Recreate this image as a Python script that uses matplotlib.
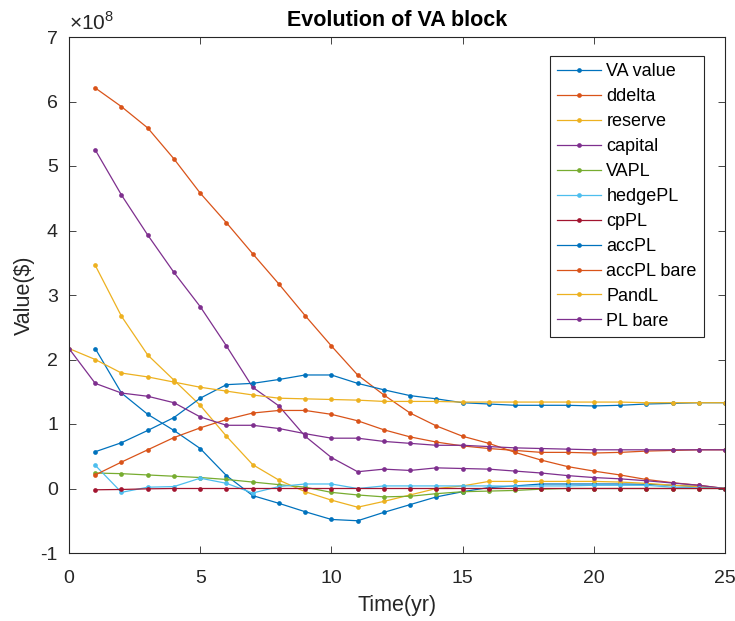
import numpy as np
import matplotlib.pyplot as plt

plt.rcParams['font.family'] = ['Liberation Sans', 'DejaVu Sans']
plt.rcParams['mathtext.fontset'] = 'custom'
plt.rcParams['mathtext.rm'] = 'Liberation Sans'
plt.rcParams['axes.unicode_minus'] = False

# time axis (years)
t0 = np.arange(0, 26)
t1 = np.arange(1, 26)

# values in units of 1e8 $
va_value = [2.17, 1.48, 1.15, 0.90, 0.62, 0.20, -0.11, -0.23, -0.36, -0.48, -0.50, -0.37, -0.25,
            -0.13, -0.05, 0.015, 0.04, 0.07, 0.07, 0.07, 0.07, 0.065, 0.05, 0.03, 0.0]
ddelta = [6.21, 5.92, 5.59, 5.11, 4.58, 4.12, 3.64, 3.17, 2.68, 2.21, 1.76, 1.45, 1.17,
          0.97, 0.81, 0.70, 0.56, 0.44, 0.34, 0.27, 0.21, 0.14, 0.09, 0.05, 0.0]
reserve = [3.46, 2.67, 2.07, 1.68, 1.29, 0.81, 0.37, 0.13, -0.05, -0.18, -0.29, -0.20, -0.10,
           0.0, 0.04, 0.11, 0.11, 0.11, 0.11, 0.11, 0.10, 0.08, 0.05, 0.03, 0.0]
capital = [5.25, 4.55, 3.93, 3.35, 2.82, 2.21, 1.57, 1.28, 0.81, 0.48, 0.26, 0.30, 0.28,
           0.32, 0.31, 0.30, 0.27, 0.24, 0.20, 0.17, 0.15, 0.12, 0.085, 0.05, 0.0]
vapl = [0.24, 0.23, 0.21, 0.19, 0.17, 0.14, 0.10, 0.06, 0.02, -0.06, -0.10, -0.13, -0.12,
        -0.08, -0.05, -0.04, -0.03, -0.01, 0.0, 0.0, 0.0, 0.0, 0.0, 0.0, 0.0]
hedgepl = [0.36, -0.06, 0.02, 0.03, 0.16, 0.08, -0.07, 0.03, 0.07, 0.07, 0.0, 0.04, 0.04,
           0.04, 0.04, 0.04, 0.035, 0.04, 0.04, 0.05, 0.05, 0.05, 0.02, 0.01, 0.0]
cppl = [-0.02, -0.015, -0.005, 0.0, 0.0, 0.0, 0.0, 0.0, 0.0, 0.0, 0.0, 0.0, 0.0,
        0.0, 0.0, 0.0, 0.0, 0.0, 0.0, 0.0, 0.0, 0.0, 0.0, 0.0, 0.0]
accpl = [0.57, 0.71, 0.90, 1.10, 1.40, 1.61, 1.63, 1.69, 1.76, 1.76, 1.63, 1.53, 1.44,
         1.39, 1.33, 1.31, 1.29, 1.29, 1.29, 1.28, 1.29, 1.31, 1.32, 1.33, 1.33]
accpl_bare = [0.21, 0.41, 0.60, 0.79, 0.94, 1.07, 1.17, 1.21, 1.21, 1.15, 1.05, 0.91, 0.80,
              0.72, 0.66, 0.62, 0.59, 0.56, 0.56, 0.55, 0.56, 0.58, 0.59, 0.60, 0.60]
pandl = [2.17, 2.00, 1.79, 1.73, 1.65, 1.57, 1.51, 1.45, 1.40, 1.39, 1.38, 1.37, 1.35,
         1.35, 1.35, 1.34, 1.34, 1.34, 1.34, 1.34, 1.34, 1.34, 1.33, 1.33, 1.33, 1.33]
pl_bare = [2.17, 1.63, 1.48, 1.43, 1.33, 1.11, 0.98, 0.98, 0.93, 0.85, 0.78, 0.78, 0.73,
           0.70, 0.67, 0.67, 0.65, 0.63, 0.62, 0.61, 0.60, 0.60, 0.60, 0.60, 0.60, 0.60]

labels = ['VA value', 'ddelta', 'reserve', 'capital', 'VAPL', 'hedgePL', 'cpPL',
          'accPL', 'accPL bare', 'PandL', 'PL bare']
series = [(t1, va_value), (t1, ddelta), (t1, reserve), (t1, capital), (t1, vapl),
          (t1, hedgepl), (t1, cppl), (t1, accpl), (t1, accpl_bare), (t0, pandl), (t0, pl_bare)]

colors = ['#0072BD', '#D95319', '#EDB120', '#7E2F8E', '#77AC30', '#4DBEEE', '#A2142F']

fig = plt.figure(figsize=(7.35, 6.21), dpi=100)
ax = fig.add_axes([69/735, 1 - 553/621, 656/735, 516/621])

for i, (x, y) in enumerate(series):
    ax.plot(x, y, '-', marker='o', ms=3.4, mew=0, lw=0.9,
            color=colors[i % 7], label=labels[i])

ax.set_xlim(0, 25)
ax.set_ylim(-1, 7)
ax.set_xticks(range(0, 26, 5))
ax.set_yticks(range(-1, 8))
ax.tick_params(direction='in', top=True, right=True, length=5, width=0.6,
               labelsize=14, colors='#262626')
ax.tick_params(axis='x', pad=12)
ax.tick_params(axis='y', pad=8)
for s in ax.spines.values():
    s.set_color('#262626')
    s.set_linewidth(0.8)

ax.set_title('Evolution of VA block', fontsize=15.5, fontweight='bold', pad=8)
ax.set_xlabel('Time(yr)', fontsize=15.5, color='#262626', labelpad=6)
ax.set_ylabel('Value($)', fontsize=15.5, color='#262626', labelpad=4)
ax.text(0.0, 1.007, r'$\times10^{8}$', transform=ax.transAxes, fontsize=15,
        color='#262626', va='bottom', ha='left')

leg = ax.legend(loc='upper right', bbox_to_anchor=(0.968, 0.963), fontsize=13,
                fancybox=False, framealpha=1, edgecolor='#262626', handlelength=2.45,
                labelspacing=0.44, borderpad=0.4, handletextpad=0.3, borderaxespad=0)
leg.get_frame().set_linewidth(0.8)

fig.savefig('out.png', dpi=100)
